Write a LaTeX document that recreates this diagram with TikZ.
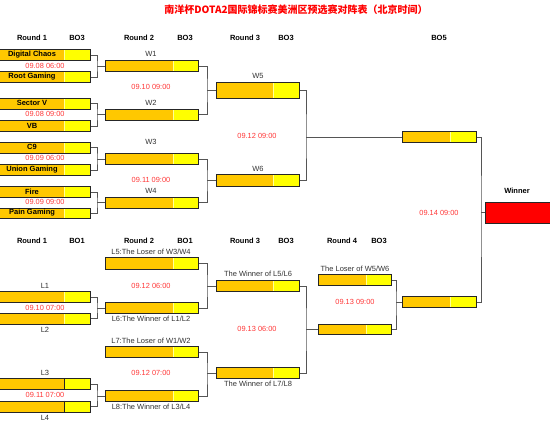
\documentclass[tikz,border=0pt]{standalone}
\usepackage{fontspec}
\setmainfont{Liberation Sans}
\newfontfamily\cjk{Noto Sans CJK SC}
\definecolor{orng}{RGB}{255,200,0}
\definecolor{ylw}{RGB}{255,255,0}
\definecolor{datered}{RGB}{255,55,55}
\definecolor{lbltxt}{RGB}{50,50,50}
\definecolor{connc}{RGB}{85,85,85}
\tikzset{
  frame/.style={draw=black!85, line width=1.1pt, inner sep=0pt, fill=none},
  conn/.style={draw=connc, line width=0.9pt},
  hdr/.style={font=\bfseries\fontsize{7.5}{9}\selectfont, text=black, inner sep=0pt},
  team/.style={font=\bfseries\fontsize{7.5}{9}\selectfont, text=black, inner sep=0pt},
  lbl/.style={font=\fontsize{7.5}{9}\selectfont, text=lbltxt, inner sep=0pt},
  datelbl/.style={font=\fontsize{7.4}{9}\selectfont, text=datered, inner sep=0pt},
}
% #1 name, #2 x1, #3 y1, #4 x2, #5 y2, #6 split x, #7 split line colour
\newcommand\mybox[7]{%
  \fill[orng] (#2,#3) rectangle (#6,#5);
  \fill[ylw] (#6,#3) rectangle (#4,#5);
  \draw[#7, line width=0.7pt] (#6,#3) -- (#6,#5);
  \node[frame, minimum width={(#4-#2)*1pt}, minimum height={(#5-#3)*1pt}, anchor=north west] (#1) at (#2,#3) {};
}
\begin{document}
\begin{tikzpicture}[x=1pt,y=-1pt]
\useasboundingbox[fill=white] (0,0) rectangle (550,424);
% title
\node[font=\cjk\bfseries\fontsize{10}{12}\selectfont, text=red, inner sep=0pt] (title) at (296,10) {南洋杯DOTA2国际锦标赛美洲区预选赛对阵表（北京时间）};
% headers upper
\node[hdr] (h1) at (32,38) {Round 1};
\node[hdr] (h2) at (77,38) {BO3};
\node[hdr] (h3) at (139,38) {Round 2};
\node[hdr] (h4) at (185,38) {BO3};
\node[hdr] (h5) at (245,38) {Round 3};
\node[hdr] (h6) at (286,38) {BO3};
\node[hdr] (h7) at (439,38) {BO5};
% headers lower
\node[hdr] (g1) at (32,241) {Round 1};
\node[hdr] (g2) at (77,241) {BO1};
\node[hdr] (g3) at (139,241) {Round 2};
\node[hdr] (g4) at (185,241) {BO1};
\node[hdr] (g5) at (245,241) {Round 3};
\node[hdr] (g6) at (286,241) {BO3};
\node[hdr] (g7) at (342,241) {Round 4};
\node[hdr] (g8) at (379,241) {BO3};
\node[hdr] (win) at (517,191) {Winner};

% junction x positions
\coordinate (xa) at (97,0);
\coordinate (xb) at (207,0);
\coordinate (xc) at (306,0);
\coordinate (xd) at (396,0);
\coordinate (xe) at (481,0);

% ===== upper bracket =====
\mybox{dc}{-2}{49}{90}{60}{64}{white!60!ylw}
\mybox{rg}{-2}{71}{90}{82}{64}{white!60!ylw}
\mybox{sv}{-2}{98}{90}{108.5}{64}{white!60!ylw}
\mybox{vb}{-2}{120}{90}{131}{64}{white!60!ylw}
\mybox{cn}{-2}{142}{90}{152.5}{64}{white!60!ylw}
\mybox{ug}{-2}{164}{90}{175}{64}{white!60!ylw}
\mybox{fi}{-2}{186}{90}{197}{64}{white!60!ylw}
\mybox{pg}{-2}{207.5}{90}{218}{64}{white!60!ylw}
\node[team] (tdc) at (32,54.5) {Digital Chaos};
\node[team] (trg) at (32,76.5) {Root Gaming};
\node[team] (tsv) at (32,103.25) {Sector V};
\node[team] (tvb) at (32,125.5) {VB};
\node[team] (tcn) at (32,147.25) {C9};
\node[team] (tug) at (32,169.5) {Union Gaming};
\node[team] (tfi) at (32,191.5) {Fire};
\node[team] (tpg) at (32,212.75) {Pain Gaming};
\node[datelbl] (d1) at (45,65.5) {09.08 06:00};
\node[datelbl] (d2) at (45,114) {09.08 09:00};
\node[datelbl] (d3) at (45,158) {09.09 06:00};
\node[datelbl] (d4) at (45,202) {09.09 09:00};

\mybox{w1}{105}{60}{198}{71}{173}{white!60!ylw}
\mybox{w2}{105}{108.5}{198}{119.5}{173}{white!60!ylw}
\mybox{w3}{105}{153}{198}{164}{173}{white!60!ylw}
\mybox{w4}{105}{196.5}{198}{207.5}{173}{white!60!ylw}
\node[lbl] (lw1) at (151,54) {W1};
\node[lbl] (lw2) at (151,103) {W2};
\node[lbl] (lw3) at (151,142) {W3};
\node[lbl] (lw4) at (151,191) {W4};
\node[datelbl] (d5) at (151,87) {09.10 09:00};
\node[datelbl] (d6) at (151,180) {09.11 09:00};

\mybox{w5}{216}{82}{299}{97.5}{273}{white!60!ylw}
\mybox{w6}{216}{174}{299}{186}{273}{white!60!ylw}
\node[lbl] (lw5) at (258,76) {W5};
\node[lbl] (lw6) at (258,169) {W6};
\node[datelbl] (d7) at (257,136) {09.12 09:00};

\mybox{bo5}{402}{131}{476}{142}{450}{white!60!ylw}
\node[datelbl] (d8) at (439,213) {09.14 09:00};

% winner
\fill[red] (485,202) rectangle (552,222.5);
\node[frame, minimum width=67pt, minimum height=20.5pt, anchor=north west] (wb) at (485,202) {};

% upper connectors
\path (w1.west -| xa) coordinate (j1);
\draw[conn] (dc.east) -| (j1) |- (rg.east); \draw[conn] (j1) -- (w1.west);
\path (w2.west -| xa) coordinate (j2);
\draw[conn] (sv.east) -| (j2) |- (vb.east); \draw[conn] (j2) -- (w2.west);
\path (w3.west -| xa) coordinate (j3);
\draw[conn] (cn.east) -| (j3) |- (ug.east); \draw[conn] (j3) -- (w3.west);
\path (w4.west -| xa) coordinate (j4);
\draw[conn] (fi.east) -| (j4) |- (pg.east); \draw[conn] (j4) -- (w4.west);
\path (w5.west -| xb) coordinate (j5);
\draw[conn] (w1.east) -| (j5) |- (w2.east); \draw[conn] (j5) -- (w5.west);
\path (w6.west -| xb) coordinate (j6);
\draw[conn] (w3.east) -| (j6) |- (w4.east); \draw[conn] (j6) -- (w6.west);
\path (bo5.west -| xc) coordinate (j7);
\draw[conn] (w5.east) -| (j7) |- (w6.east); \draw[conn] (j7) -- (bo5.west);

% ===== lower bracket =====
\mybox{l1}{-2}{291}{90}{302}{64}{white!60!ylw}
\mybox{l2}{-2}{312.5}{90}{324}{64}{white!60!ylw}
\mybox{l3}{-2}{378}{90}{389}{64}{black!85}
\mybox{l4}{-2}{400.5}{90}{412}{64}{black!85}
\node[lbl] (ll1) at (45,286) {L1};
\node[lbl] (ll2) at (45,329.5) {L2};
\node[lbl] (ll3) at (45,373) {L3};
\node[lbl] (ll4) at (45,417.5) {L4};
\node[datelbl] (d9) at (45,307.5) {09.10 07:00};
\node[datelbl] (d10) at (45,395) {09.11 07:00};

\mybox{l5}{105}{257}{198}{268.5}{173}{white!60!ylw}
\mybox{l6}{105}{302}{198}{313}{173}{white!60!ylw}
\mybox{l7}{105}{346}{198}{357}{173}{white!60!ylw}
\mybox{l8}{105}{390}{198}{401}{173}{white!60!ylw}
\node[lbl] (ll5) at (151,252) {L5:The Loser of W3/W4};
\node[lbl] (ll6) at (151,318.5) {L6:The Winner of L1/L2};
\node[lbl] (ll7) at (151,341) {L7:The Loser of W1/W2};
\node[lbl] (ll8) at (151,406.5) {L8:The Winner of L3/L4};
\node[datelbl] (d11) at (151,286) {09.12 06:00};
\node[datelbl] (d12) at (151,373) {09.12 07:00};

\mybox{r3a}{216}{280}{299}{291}{273}{white!60!ylw}
\mybox{r3b}{216}{367}{299}{378}{273}{white!60!ylw}
\node[lbl] (lr3a) at (258,274) {The Winner of L5/L6};
\node[lbl] (lr3b) at (258,384) {The Winner of L7/L8};
\node[datelbl] (d13) at (257,329) {09.13 06:00};

\mybox{r4a}{318}{274}{391}{285}{366}{white!60!ylw}
\mybox{r4b}{318}{323.5}{391}{334}{366}{white!60!ylw}
\node[lbl] (lr4a) at (355,269) {The Loser of W5/W6};
\node[datelbl] (d14) at (355,302) {09.13 09:00};

\mybox{lbf}{402}{296}{476}{307}{450}{white!60!ylw}

% lower connectors
\path (l6.west -| xa) coordinate (k1);
\draw[conn] (l1.east) -| (k1) |- (l2.east); \draw[conn] (k1) -- (l6.west);
\path (l8.west -| xa) coordinate (k2);
\draw[conn] (l3.east) -| (k2) |- (l4.east); \draw[conn] (k2) -- (l8.west);
\path (r3a.west -| xb) coordinate (k3);
\draw[conn] (l5.east) -| (k3) |- (l6.east); \draw[conn] (k3) -- (r3a.west);
\path (r3b.west -| xb) coordinate (k4);
\draw[conn] (l7.east) -| (k4) |- (l8.east); \draw[conn] (k4) -- (r3b.west);
\path (r4b.west -| xc) coordinate (k5);
\draw[conn] (r3a.east) -| (k5) |- (r3b.east); \draw[conn] (k5) -- (r4b.west);
\path (lbf.west -| xd) coordinate (k6);
\draw[conn] (r4a.east) -| (k6) |- (r4b.east); \draw[conn] (k6) -- (lbf.west);
\path (wb.west -| xe) coordinate (k7);
\draw[conn] (bo5.east) -| (k7) |- (lbf.east); \draw[conn] (k7) -- (wb.west);
\end{tikzpicture}
\end{document}
